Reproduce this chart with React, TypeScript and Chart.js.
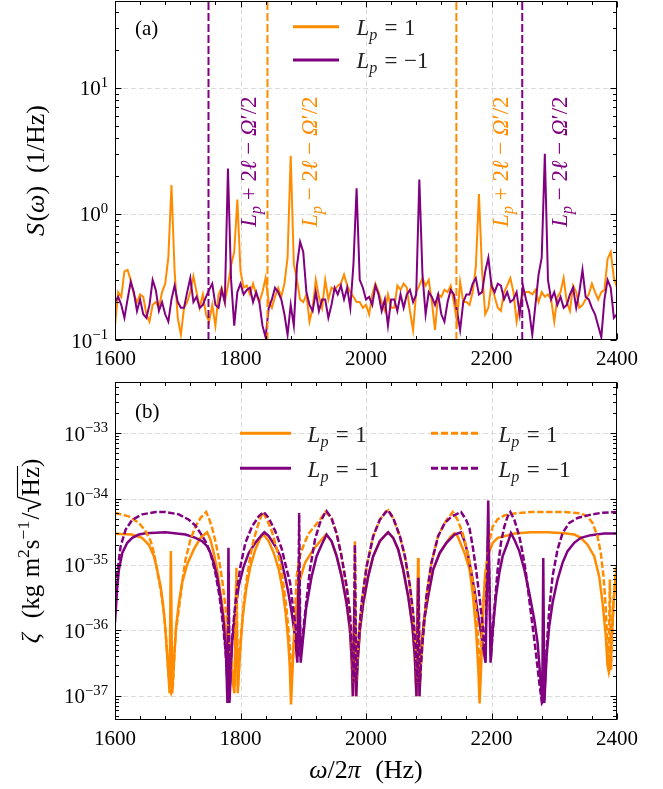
import React, { useEffect, useRef } from "react";
import { Chart, registerables } from "chart.js";

Chart.register(...registerables);

const ORANGE = "#ff8c00";
const PURPLE = "#800080";
const GRID = "#dcdcdc";
const FONT = '"Liberation Serif", "Times New Roman", serif';

// ---------- axes ----------
const freqMin = 1600;
const freqMax = 2400;
const freqTicks = [1600, 1800, 2000, 2200, 2400];
const freqMinorStep = 40;

const specMin = 0.1;
const specMax = 49;
const specTicks = [0.1, 1, 10];
const specTickExp = ["−1", "0", "1"];

const zetaMin = 4.3e-38;
const zetaMax = 6e-33;
const zetaTicks = [1e-37, 1e-36, 1e-35, 1e-34, 1e-33];
const zetaTickExp = ["−37", "−36", "−35", "−34", "−33"];

// ---------- panel (a): spectra ----------
const specFreq = Array.from({ length: 161 }, (_, i) => freqMin + 5 * i);
const specOrange = [
  0.13, 0.24, 0.22, 0.35, 0.36, 0.30, 0.23, 0.20, 0.23, 0.22,
  0.16, 0.14, 0.19, 0.20, 0.18, 0.24, 0.28, 0.45, 1.70, 0.35,
  0.15, 0.11, 0.18, 0.20, 0.24, 0.32, 0.24, 0.18, 0.23, 0.16,
  0.14, 0.19, 0.13, 0.23, 0.26, 0.20, 0.27, 0.39, 0.50, 1.30,
  0.35, 0.26, 0.27, 0.23, 0.28, 0.23, 0.20, 0.24, 0.31, 0.20,
  0.18, 0.22, 0.26, 0.22, 0.28, 0.45, 2.90, 0.40, 0.30, 0.21,
  0.20, 0.23, 0.14, 0.18, 0.30, 0.22, 0.18, 0.30, 0.21, 0.26,
  0.25, 0.27, 0.28, 0.33, 0.27, 0.24, 0.22, 0.20, 0.20, 0.18,
  0.19, 0.16, 0.23, 0.28, 0.24, 0.20, 0.17, 0.23, 0.18, 0.18,
  0.27, 0.25, 0.28, 0.26, 0.17, 0.12, 0.24, 0.27, 0.31, 0.27,
  0.30, 0.20, 0.12, 0.23, 0.22, 0.25, 0.24, 0.27, 0.20, 0.14,
  0.29, 0.20, 0.20, 0.19, 0.24, 0.38, 1.44, 0.35, 0.16, 0.18,
  0.28, 0.22, 0.18, 0.17, 0.24, 0.27, 0.31, 0.24, 0.14, 0.19,
  0.23, 0.24, 0.24, 0.23, 0.25, 0.20, 0.24, 0.22, 0.23, 0.21,
  0.14, 0.22, 0.24, 0.31, 0.20, 0.17, 0.27, 0.24, 0.18, 0.19,
  0.21, 0.23, 0.28, 0.24, 0.21, 0.24, 0.25, 0.44, 0.50, 0.31,
  0.26,
];
const specPurple = [
  0.20, 0.22, 0.19, 0.15, 0.21, 0.29, 0.24, 0.17, 0.21, 0.16,
  0.15, 0.19, 0.30, 0.25, 0.17, 0.20, 0.16, 0.14, 0.21, 0.27,
  0.20, 0.18, 0.18, 0.24, 0.31, 0.20, 0.22, 0.18, 0.19, 0.22,
  0.25, 0.28, 0.19, 0.18, 0.25, 0.20, 2.30, 0.30, 0.13, 0.24,
  0.28, 0.23, 0.25, 0.26, 0.20, 0.24, 0.20, 0.13, 0.105, 0.18,
  0.21, 0.26, 0.24, 0.21, 0.16, 0.11, 0.19, 0.13, 0.39, 0.60,
  0.50, 0.24, 0.19, 0.17, 0.24, 0.17, 0.21, 0.21, 0.15, 0.19,
  0.26, 0.23, 0.27, 0.21, 0.26, 0.18, 0.40, 1.60, 0.30, 0.26,
  0.21, 0.22, 0.19, 0.27, 0.23, 0.17, 0.21, 0.13, 0.21, 0.21,
  0.17, 0.23, 0.18, 0.23, 0.25, 0.20, 0.23, 1.88, 0.33, 0.16,
  0.24, 0.22, 0.19, 0.23, 0.16, 0.14, 0.20, 0.25, 0.23, 0.17,
  0.12, 0.20, 0.23, 0.23, 0.28, 0.31, 0.23, 0.24, 0.35, 0.45,
  0.27, 0.24, 0.28, 0.27, 0.21, 0.24, 0.20, 0.21, 0.24, 0.16,
  0.27, 0.21, 0.17, 0.11, 0.19, 0.33, 0.45, 3.00, 0.30, 0.21,
  0.24, 0.19, 0.22, 0.18, 0.19, 0.23, 0.26, 0.18, 0.24, 0.36,
  0.22, 0.21, 0.18, 0.16, 0.13, 0.105, 0.21, 0.30, 0.26, 0.15,
  0.16,
];
const markerOrangeFreq = [1843, 2144];
const markerPurpleFreq = [1749, 2249];
const noteFreq = [1824, 1922, 2226, 2321];
const noteSign = ["+", "−", "+", "−"];
const noteIsPurple = [true, false, false, true];
const noteLevel = 0.79;

// ---------- panel (b): zeta curves [freq, value] ----------
const zetaOrangeSolid: [number, number][] = [
  [1600, 2.95e-35], [1627, 2.86e-35], [1643, 2.55e-35], [1654, 2.0e-35], [1662, 1.34e-35],
  [1667, 8.4e-36], [1672.6, 4.7e-36], [1676.3, 2.6e-36], [1679.5, 1.3e-36], [1682, 6.0e-37],
  [1684.8, 2.5e-37], [1687, 1.1e-37], [1689, 1.6e-35], [1691.2, 1.1e-37], [1693.8, 3.2e-37],
  [1697.5, 1.15e-36], [1701.8, 2.6e-36], [1707, 5.3e-36], [1715, 1.0e-35], [1725.6, 1.7e-35],
  [1736.2, 2.55e-35], [1746.8, 3.1e-35], [1752, 2.4e-35], [1757.4, 1.5e-35], [1762.7, 8.4e-36],
  [1768, 3.7e-36], [1773.3, 1.63e-36], [1778.6, 6.4e-37], [1784, 3.6e-37], [1787.7, 1.6e-37],
  [1790.3, 1.1e-37], [1793, 5.0e-36], [1795.6, 1.1e-37], [1798.8, 4.0e-37], [1803.6, 1.63e-36],
  [1809, 4.2e-36], [1815.8, 9.4e-36], [1823.7, 1.7e-35], [1831.7, 2.55e-35], [1837, 2.86e-35],
  [1845, 2.26e-35], [1853, 1.5e-35], [1861, 8.4e-36], [1867, 4.2e-36], [1872, 1.8e-36],
  [1876, 7.0e-37], [1878.5, 2.8e-37], [1880.5, 7.4e-38], [1882.5, 2.0e-37], [1884.5, 6.0e-37],
  [1889.5, 2.6e-36], [1894.8, 5.9e-36], [1902.8, 1.06e-35], [1916, 1.7e-35], [1929.3, 2.4e-35],
  [1936.5, 2.86e-35], [1945.2, 2.26e-35], [1953.2, 1.34e-35], [1961.1, 6.6e-36], [1969, 2.6e-36],
  [1974.4, 1.02e-36], [1977.5, 3.2e-37], [1979.1, 9.9e-38], [1981.8, 3.0e-36], [1984.4, 9.9e-38],
  [1986.6, 3.2e-37], [1990.3, 1.02e-36], [1995.6, 2.6e-36], [2003.5, 6.6e-36], [2011.5, 1.34e-35],
  [2022, 2.26e-35], [2031.6, 2.86e-35], [2035.3, 3.1e-35], [2043.3, 2.55e-35], [2051.3, 1.7e-35],
  [2059.2, 8.4e-36], [2067.2, 3.3e-36], [2074, 1.15e-36], [2077.8, 4.0e-37], [2080.4, 9.9e-38],
  [2083, 1.26e-35], [2085.2, 9.9e-38], [2087.8, 4.0e-37], [2092, 1.3e-36], [2099, 3.3e-36],
  [2107, 8.4e-36], [2117.5, 1.5e-35], [2128.2, 2.14e-35], [2134, 2.6e-35], [2141, 3.0e-35],
  [2146, 2.7e-35], [2157, 1.5e-35], [2165, 8.4e-36], [2170, 3.7e-36], [2175.4, 1.02e-36],
  [2179, 2.5e-37], [2181, 7.7e-38], [2183.3, 2.5e-37], [2186, 1.45e-36], [2189.7, 6.6e-36],
  [2194, 1.34e-35], [2201.9, 2.14e-35], [2209.8, 2.55e-35], [2220.5, 2.7e-35], [2236.4, 2.96e-35],
  [2263, 3.1e-35], [2289, 3.1e-35], [2316, 3.0e-35], [2332, 2.86e-35], [2342.4, 2.55e-35],
  [2353, 2.0e-35], [2363.6, 1.34e-35], [2371.6, 6.6e-36], [2377, 2.6e-36], [2382.2, 8.1e-37],
  [2384.8, 3.0e-37], [2387, 2.3e-37], [2389.5, 3.0e-37], [2391.2, 6.4e-37], [2394.4, 2.6e-36],
  [2398, 6.6e-36], [2400, 8.4e-36],
];
const zetaPurpleSolid: [number, number][] = [
  [1600, 1.3e-36], [1603.7, 4.7e-36], [1606.3, 8.4e-36], [1611.6, 1.5e-35], [1619.6, 2.14e-35],
  [1627.5, 2.55e-35], [1638, 2.86e-35], [1648.7, 3.0e-35], [1680.5, 3.1e-35], [1712.4, 2.86e-35],
  [1728.3, 2.55e-35], [1739, 2.26e-35], [1746.8, 1.9e-35], [1752.1, 1.5e-35], [1757.4, 1.06e-35],
  [1762.7, 6.6e-36], [1768, 3.3e-36], [1773.3, 1.3e-36], [1777, 4.0e-37], [1779.2, 7.8e-38],
  [1780.8, 1.8e-35], [1782.4, 7.8e-38], [1786.6, 6.4e-37], [1791.9, 2.1e-36], [1797.2, 4.7e-36],
  [1805.2, 9.4e-36], [1813.1, 1.5e-35], [1823.7, 2.14e-35], [1834.3, 2.86e-35], [1838, 3.1e-35],
  [1845, 2.7e-35], [1855.5, 1.9e-35], [1863.5, 1.34e-35], [1871, 6.6e-36], [1876.3, 3.7e-36],
  [1881.6, 1.84e-36], [1886.9, 8.1e-37], [1890.6, 3.2e-37], [1892.7, 1.0e-35], [1895.9, 3.2e-37],
  [1899, 6.4e-37], [1904.4, 2.1e-36], [1913.4, 6.6e-36], [1921.3, 1.34e-35], [1929.3, 2.0e-35],
  [1937.2, 2.86e-35], [1945.2, 2.26e-35], [1953.2, 1.34e-35], [1961.1, 6.6e-36], [1969, 2.6e-36],
  [1974.4, 1.02e-36], [1977.5, 3.2e-37], [1979.1, 9.9e-38], [1981.8, 4.0e-36], [1984.4, 9.9e-38],
  [1986.6, 3.2e-37], [1990.3, 1.02e-36], [1995.6, 2.6e-36], [2003.5, 6.6e-36], [2011.5, 1.34e-35],
  [2022, 2.26e-35], [2031.6, 2.86e-35], [2035.3, 3.1e-35], [2043.3, 2.55e-35], [2051.3, 1.7e-35],
  [2059.2, 8.4e-36], [2067.2, 3.3e-36], [2074, 1.15e-36], [2077.8, 4.0e-37], [2080.4, 9.9e-38],
  [2083, 6.3e-36], [2085.2, 9.9e-38], [2087.8, 4.0e-37], [2092, 1.3e-36], [2099, 3.3e-36],
  [2107, 8.4e-36], [2117.5, 1.5e-35], [2128.2, 2.14e-35], [2141, 2.86e-35], [2151.5, 3.1e-35],
  [2157, 2.26e-35], [2162, 1.5e-35], [2167, 8.4e-36], [2172.7, 4.2e-36], [2178, 1.84e-36],
  [2183.3, 9.1e-37], [2187, 5.1e-37], [2190.6, 3.2e-37], [2194.8, 9.4e-35], [2198.5, 3.2e-37],
  [2201.9, 1.02e-36], [2207.2, 3.3e-36], [2212.5, 7.5e-36], [2217.8, 1.34e-35], [2225.8, 2.14e-35],
  [2231, 3.0e-35], [2236.4, 2.4e-35], [2244.3, 1.6e-35], [2252.3, 8.4e-36], [2260.2, 3.7e-36],
  [2268.2, 1.45e-36], [2273.5, 6.4e-37], [2277.7, 2.0e-37], [2280.9, 7.8e-38], [2282.5, 1.26e-35],
  [2284.2, 7.8e-38], [2287.8, 4.0e-37], [2292, 1.15e-36], [2297.3, 2.6e-36], [2305.3, 5.9e-36],
  [2313.2, 1.06e-35], [2321.2, 1.6e-35], [2331.8, 2.14e-35], [2342.4, 2.55e-35], [2358.3, 2.8e-35],
  [2379.5, 2.96e-35], [2400, 2.96e-35],
];
const zetaOrangeDashed: [number, number][] = [
  [1600, 6.1e-35], [1622, 5.4e-35], [1638, 4.3e-35], [1649, 3.2e-35], [1657, 2.26e-35],
  [1662, 1.5e-35], [1667, 8.4e-36], [1672.6, 4.2e-36], [1678, 1.84e-36], [1682, 6.4e-37],
  [1684.8, 2.5e-37], [1687, 1.3e-37], [1689.5, 1.1e-37], [1692, 1.3e-37], [1696.5, 9.1e-37],
  [1701.8, 2.1e-36], [1707, 5.3e-36], [1712.4, 1.19e-35], [1720.3, 2.4e-35], [1728.3, 3.8e-35],
  [1736.2, 5.1e-35], [1745.2, 6.3e-35], [1749.5, 5.1e-35], [1754.8, 3.6e-35], [1760, 2.26e-35],
  [1765.4, 1.26e-35], [1770.7, 5.9e-36], [1776, 2.3e-36], [1781.3, 8.1e-37], [1786.6, 2.8e-37],
  [1790.8, 1.4e-37], [1793.5, 8.9e-36], [1796.1, 1.4e-37], [1799.9, 6.4e-37], [1805.2, 2.6e-36],
  [1810.5, 6.6e-36], [1815.8, 1.34e-35], [1821, 2.4e-35], [1829, 4.3e-35], [1835.4, 6.3e-35],
  [1842.3, 4.8e-35], [1850, 3.2e-35], [1858, 1.7e-35], [1863, 1.06e-35], [1868, 5.3e-36],
  [1873, 2.3e-36], [1877, 9.0e-37], [1880, 3.6e-37], [1882, 2.2e-37], [1884, 4.0e-37],
  [1886.5, 1.6e-36], [1889.5, 6.6e-36], [1894, 1.3e-35], [1900, 1.9e-35], [1908, 2.9e-35],
  [1916, 3.6e-35], [1926.6, 4.8e-35], [1935.5, 6.3e-35], [1945, 5.1e-35], [1953, 3.0e-35],
  [1961, 1.34e-35], [1969, 4.7e-36], [1974.4, 1.84e-36], [1978, 4.0e-37], [1980.2, 1.6e-37],
  [1982.3, 2.26e-35], [1984.4, 1.6e-37], [1987.6, 6.4e-37], [1993, 2.6e-36], [2001, 9.4e-36],
  [2011.5, 2.7e-35], [2022, 4.8e-35], [2031.6, 6.3e-35], [2035.3, 6.7e-35], [2043.3, 5.1e-35],
  [2054, 2.7e-35], [2062, 1.34e-35], [2070, 4.7e-36], [2075, 1.84e-36], [2079.4, 5.1e-37],
  [2082, 1.6e-37], [2083.6, 1.26e-35], [2085.7, 1.6e-37], [2090, 6.4e-37], [2096.3, 3.3e-36],
  [2104.3, 1.06e-35], [2114.9, 2.7e-35], [2125.5, 4.3e-35], [2130.3, 5.0e-35], [2138.3, 6.3e-35],
  [2146, 4.8e-35], [2154, 3.0e-35], [2162, 1.5e-35], [2167.4, 8.4e-36], [2172.7, 3.7e-36],
  [2177, 1.45e-36], [2179.5, 5.1e-37], [2181.5, 2.5e-37], [2183.5, 5.1e-37], [2186, 2.1e-36],
  [2191.3, 8.4e-36], [2196.6, 2.26e-35], [2201.9, 3.8e-35], [2209.8, 4.9e-35], [2220.5, 5.6e-35],
  [2236.4, 6.0e-35], [2263, 6.3e-35], [2316, 6.3e-35], [2342.4, 6.0e-35], [2353, 5.4e-35],
  [2361, 4.3e-35], [2368.9, 2.7e-35], [2374.2, 1.5e-35], [2378.5, 6.6e-36], [2382.2, 2.1e-36],
  [2385.4, 4.0e-37], [2386.6, 2.5e-37], [2388.6, 5.9e-36], [2390.5, 2.5e-37], [2394.4, 2.6e-36],
  [2398.1, 8.4e-36], [2400, 9.4e-36],
];
const zetaPurpleDashed: [number, number][] = [
  [1600, 3.3e-36], [1603.7, 7.5e-36], [1609, 1.9e-35], [1617, 3.4e-35], [1627.5, 4.8e-35],
  [1643.4, 5.8e-35], [1664.6, 6.3e-35], [1680.5, 6.3e-35], [1701.8, 5.8e-35], [1717.7, 4.8e-35],
  [1728.3, 3.9e-35], [1736.2, 3.0e-35], [1744.2, 2.26e-35], [1752.1, 1.5e-35], [1760, 7.5e-36],
  [1766.5, 3.3e-36], [1771.8, 1.3e-36], [1776, 5.1e-37], [1778.6, 2.0e-37], [1780.2, 1.0e-37],
  [1781.2, 8.0e-36], [1782.3, 1.0e-37], [1784, 2.5e-37], [1787.7, 1.02e-36], [1793, 3.3e-36],
  [1799.9, 9.4e-36], [1807.8, 2.14e-35], [1818.4, 3.8e-35], [1829, 5.4e-35], [1837, 6.3e-35],
  [1845, 5.1e-35], [1855.5, 3.2e-35], [1866, 1.7e-35], [1871, 1.06e-35], [1879, 5.3e-36],
  [1884, 2.1e-36], [1888.5, 1.02e-36], [1891.5, 4.0e-37], [1893.5, 6.1e-35], [1895.5, 4.0e-37],
  [1897.5, 6.0e-37], [1903, 1.84e-36], [1910.7, 8.4e-36], [1918.7, 2.4e-35], [1926.6, 4.3e-35],
  [1934.6, 6.1e-35], [1937, 6.5e-35], [1945, 5.1e-35], [1953, 3.0e-35], [1961, 1.34e-35],
  [1969, 4.7e-36], [1974.4, 1.84e-36], [1978, 4.0e-37], [1980.2, 1.6e-37], [1982.3, 2.0e-35],
  [1984.4, 1.6e-37], [1987.6, 6.4e-37], [1993, 2.6e-36], [2001, 9.4e-36], [2011.5, 2.7e-35],
  [2022, 4.8e-35], [2031.6, 6.3e-35], [2035.3, 6.7e-35], [2043.3, 5.1e-35], [2054, 2.7e-35],
  [2062, 1.34e-35], [2070, 4.7e-36], [2075, 1.84e-36], [2079.4, 5.1e-37], [2082, 1.6e-37],
  [2083.6, 6.3e-36], [2085.7, 1.6e-37], [2090, 6.4e-37], [2096.3, 3.3e-36], [2104.3, 1.06e-35],
  [2114.9, 2.7e-35], [2125.5, 4.3e-35], [2136.6, 5.4e-35], [2143.6, 5.8e-35], [2151.5, 6.3e-35],
  [2159.5, 4.8e-35], [2164.8, 3.6e-35], [2170, 1.9e-35], [2175.4, 8.4e-36], [2180.7, 3.3e-36],
  [2186, 1.15e-36], [2189.7, 4.0e-37], [2194.8, 3.0e-35], [2199.2, 4.0e-37], [2204.5, 2.1e-36],
  [2209.8, 8.4e-36], [2215.1, 2.14e-35], [2220.5, 3.8e-35], [2225.8, 5.4e-35], [2230, 6.3e-35],
  [2236.4, 4.8e-35], [2244.3, 2.7e-35], [2249.6, 1.5e-35], [2254.9, 7.5e-36], [2260.2, 2.9e-36],
  [2265.5, 1.15e-36], [2270.8, 4.5e-37], [2276.1, 1.6e-37], [2280.4, 7.8e-38], [2284, 8.8e-38],
  [2287.8, 5.1e-37], [2292, 2.1e-36], [2297.3, 6.6e-36], [2305.3, 1.7e-35], [2313.2, 3.0e-35],
  [2323.9, 4.3e-35], [2337.1, 5.1e-35], [2353, 5.6e-35], [2374.2, 6.1e-35], [2400, 6.3e-35],
];

// ---------- rich text helpers ----------
type Part = { t?: string; it?: boolean; sub?: boolean; sup?: boolean; gap?: number; over?: boolean; big?: number };

function partFont(p: Part, size: number) {
  let s = p.sub || p.sup ? size * 0.7 : size;
  if (p.big) s *= p.big;
  return `${p.it ? "italic " : ""}${s}px ${FONT}`;
}
function richWidth(ctx: CanvasRenderingContext2D, parts: Part[], size: number) {
  let w = 0;
  for (const p of parts) {
    if (!p.t) { w += (p.gap || 0) * size; continue; }
    ctx.font = partFont(p, size);
    w += ctx.measureText(p.t).width;
  }
  return w;
}
function drawRich(ctx: CanvasRenderingContext2D, parts: Part[], x: number, y: number, size: number, color: string) {
  ctx.fillStyle = color;
  ctx.strokeStyle = color;
  ctx.textAlign = "left";
  ctx.textBaseline = "alphabetic";
  let cx = x;
  for (const p of parts) {
    if (!p.t) { cx += (p.gap || 0) * size; continue; }
    ctx.font = partFont(p, size);
    const dy = p.sub ? size * 0.22 : p.sup ? -size * 0.4 : p.big ? size * 0.08 : 0;
    ctx.fillText(p.t, cx, y + dy);
    const w = ctx.measureText(p.t).width;
    if (p.over) {
      ctx.lineWidth = Math.max(1, size * 0.045);
      ctx.beginPath();
      ctx.moveTo(cx - size * 0.03, y - size * 0.86);
      ctx.lineTo(cx + w + size * 0.04, y - size * 0.86);
      ctx.stroke();
    }
    cx += w;
  }
  return cx - x;
}

const lpParts = (val: string): Part[] => [
  { t: "L", it: true }, { t: "p", it: true, sub: true }, { gap: 0.32 }, { t: "=" }, { gap: 0.28 }, { t: val },
];
const noteParts = (sign: string): Part[] => [
  { t: "L", it: true }, { t: "p", it: true, sub: true }, { gap: 0.25 }, { t: sign }, { gap: 0.25 },
  { t: "2" }, { t: "ℓ", it: true }, { gap: 0.25 }, { t: "−" }, { gap: 0.25 },
  { t: "Ω", it: true }, { t: "′" }, { t: "/2" },
];

type LegendItem = { x1: number; x2: number; y: number; color: string; dash: number[]; tx: number; ty: number; val: string };
type PanelCfg = {
  id: string;
  yTicks: number[];
  yExp: string[];
  xLabelBaseline: number;
  yTitle: Part[];
  yTitleSize: number;
  yTitleX: number;
  xTitle?: Part[];
  xTitleY?: number;
  panelLabel: string;
  panelLabelY: number;
  legend: LegendItem[];
  notes: boolean;
};

function makePanelPlugin(cfg: PanelCfg) {
  return {
    id: cfg.id,
    beforeDatasetsDraw(chart: any) {
      const { ctx, chartArea: a } = chart;
      const xs = chart.scales.x, ys = chart.scales.y;
      ctx.save();
      ctx.strokeStyle = GRID;
      ctx.lineWidth = 1;
      ctx.setLineDash([5.5, 2.5]);
      ctx.beginPath();
      for (const t of freqTicks) {
        if (t <= xs.min || t >= xs.max) continue;
        const p = Math.round(xs.getPixelForValue(t)) + 0.5;
        ctx.moveTo(p, a.top); ctx.lineTo(p, a.bottom);
      }
      for (const t of cfg.yTicks) {
        if (t <= ys.min * 1.0001 || t >= ys.max) continue;
        const p = Math.round(ys.getPixelForValue(t)) + 0.5;
        ctx.moveTo(a.left, p); ctx.lineTo(a.right, p);
      }
      ctx.stroke();
      ctx.restore();
    },
    afterDatasetsDraw(chart: any) {
      const { ctx, chartArea: a } = chart;
      const xs = chart.scales.x, ys = chart.scales.y;
      ctx.save();
      ctx.strokeStyle = "#000";
      ctx.lineWidth = 1;
      ctx.setLineDash([]);
      const L = Math.round(a.left) + 0.5, R = Math.round(a.right) - 0.5;
      const T = Math.round(a.top) + 0.5, B = Math.round(a.bottom) - 0.5;
      ctx.strokeRect(L, T, R - L, B - T);
      const MAJ = 6, MIN = 3.5;
      ctx.beginPath();
      for (let f = xs.min; f <= xs.max + 1e-6; f += freqMinorStep) {
        const major = freqTicks.includes(Math.round(f));
        const len = major ? MAJ : MIN;
        const p = Math.round(xs.getPixelForValue(f)) + 0.5;
        ctx.moveTo(p, B); ctx.lineTo(p, B - len);
        ctx.moveTo(p, T); ctx.lineTo(p, T + len);
      }
      const d0 = Math.floor(Math.log10(ys.min)) - 1, d1 = Math.ceil(Math.log10(ys.max)) + 1;
      for (let d = d0; d <= d1; d++) {
        for (let k = 1; k <= 9; k++) {
          const v = k * Math.pow(10, d);
          if (v < ys.min * 0.9999 || v > ys.max * 1.0001) continue;
          const len = k === 1 ? MAJ : MIN;
          const p = Math.round(ys.getPixelForValue(v)) + 0.5;
          ctx.moveTo(L, p); ctx.lineTo(L + len, p);
          ctx.moveTo(R, p); ctx.lineTo(R - len, p);
        }
      }
      ctx.stroke();

      ctx.fillStyle = "#000";
      ctx.font = `21px ${FONT}`;
      ctx.textAlign = "center";
      ctx.textBaseline = "alphabetic";
      for (const t of freqTicks) {
        ctx.fillText(String(t), xs.getPixelForValue(t), cfg.xLabelBaseline);
      }
      cfg.yTicks.forEach((t, i) => {
        const py = ys.getPixelForValue(t);
        const parts: Part[] = [{ t: "10" }, { t: cfg.yExp[i], sup: true }];
        const w = richWidth(ctx, parts, 21);
        drawRich(ctx, parts, a.left - 7 - w, py + 7.5, 21, "#000");
      });

      {
        const w = richWidth(ctx, cfg.yTitle, cfg.yTitleSize);
        const cy = (a.top + a.bottom) / 2;
        ctx.save();
        ctx.translate(cfg.yTitleX, cy + w / 2);
        ctx.rotate(-Math.PI / 2);
        drawRich(ctx, cfg.yTitle, 0, 0, cfg.yTitleSize, "#000");
        ctx.restore();
      }
      if (cfg.xTitle && cfg.xTitleY) {
        const w = richWidth(ctx, cfg.xTitle, 26);
        drawRich(ctx, cfg.xTitle, (a.left + a.right) / 2 - w / 2, cfg.xTitleY, 26, "#000");
      }
      ctx.fillStyle = "#000";
      ctx.font = `21px ${FONT}`;
      ctx.textAlign = "left";
      ctx.fillText(cfg.panelLabel, 135, cfg.panelLabelY);

      for (const it of cfg.legend) {
        ctx.strokeStyle = it.color;
        ctx.lineWidth = 3;
        ctx.setLineDash(it.dash);
        ctx.beginPath();
        ctx.moveTo(it.x1, it.y);
        ctx.lineTo(it.x2, it.y);
        ctx.stroke();
        ctx.setLineDash([]);
        drawRich(ctx, lpParts(it.val), it.tx, it.ty, 23, "#222");
      }

      if (cfg.notes) {
        noteFreq.forEach((f, i) => {
          const px = xs.getPixelForValue(f);
          const py = ys.getPixelForValue(noteLevel);
          ctx.save();
          ctx.translate(px, py);
          ctx.rotate(-Math.PI / 2);
          drawRich(ctx, noteParts(noteSign[i]), 0, 0, 23, noteIsPurple[i] ? PURPLE : ORANGE);
          ctx.restore();
        });
      }
      ctx.restore();
    },
  };
}

function lineDataset(points: { x: number; y: number }[], color: string, width: number, dash: number[], order: number) {
  return {
    data: points,
    borderColor: color,
    backgroundColor: color,
    borderWidth: width,
    borderDash: dash,
    pointRadius: 0,
    fill: false,
    tension: 0,
    order,
    borderJoinStyle: "miter" as const,
  };
}

export default function App() {
  const topRef = useRef<HTMLCanvasElement>(null);
  const botRef = useRef<HTMLCanvasElement>(null);

  useEffect(() => {
    const topPlugin = makePanelPlugin({
      id: "panelA",
      yTicks: specTicks,
      yExp: specTickExp,
      xLabelBaseline: 365,
      yTitle: [{ t: "S", it: true }, { gap: 0.05 }, { t: "(" }, { t: "ω", it: true }, { t: ")" }, { gap: 0.5 }, { t: "(1/Hz)" }],
      yTitleSize: 26,
      yTitleX: 44,
      panelLabel: "(a)",
      panelLabelY: 35,
      legend: [
        { x1: 293, x2: 339, y: 26.7, color: ORANGE, dash: [], tx: 356.4, ty: 35, val: "1" },
        { x1: 293, x2: 339, y: 60, color: PURPLE, dash: [], tx: 356.4, ty: 68.3, val: "−1" },
      ],
      notes: true,
    });
    const markerSets = [
      ...markerPurpleFreq.map((f) => lineDataset([{ x: f, y: specMin }, { x: f, y: specMax }], PURPLE, 2, [8, 3], 0)),
      ...markerOrangeFreq.map((f) => lineDataset([{ x: f, y: specMin }, { x: f, y: specMax }], ORANGE, 2, [8, 3], 0)),
    ];
    const c1 = new Chart(topRef.current as HTMLCanvasElement, {
      type: "line",
      data: {
        datasets: [
          ...markerSets,
          lineDataset(specFreq.map((f, i) => ({ x: f, y: specPurple[i] })), PURPLE, 2, [], 1),
          lineDataset(specFreq.map((f, i) => ({ x: f, y: specOrange[i] })), ORANGE, 2, [], 2),
        ] as any,
      },
      options: {
        responsive: false,
        animation: false,
        devicePixelRatio: 1,
        events: [],
        layout: { padding: { left: 115, right: 46, top: 1, bottom: 35 } },
        plugins: { legend: { display: false }, tooltip: { enabled: false } },
        scales: {
          x: { type: "linear", min: freqMin, max: freqMax, display: false },
          y: { type: "logarithmic", min: specMin, max: specMax, display: false },
        },
      } as any,
      plugins: [topPlugin as any],
    });

    const botPlugin = makePanelPlugin({
      id: "panelB",
      yTicks: zetaTicks,
      yExp: zetaTickExp,
      xLabelBaseline: 370,
      yTitle: [
        { t: "ζ", it: true }, { gap: 0.6 }, { t: "(kg" }, { gap: 0.3 }, { t: "m" }, { t: "2", sup: true },
        { t: "s" }, { t: "−1", sup: true }, { gap: 0.05 }, { t: "/" }, { t: "√", big: 1.2 }, { t: "Hz", over: true }, { t: ")" },
      ],
      yTitleSize: 25,
      yTitleX: 39,
      xTitle: [{ t: "ω", it: true }, { t: "/2" }, { t: "π", it: true }, { gap: 0.55 }, { t: "(Hz)" }],
      xTitleY: 403,
      panelLabel: "(b)",
      panelLabelY: 43,
      legend: [
        { x1: 240, x2: 291, y: 58.3, color: ORANGE, dash: [], tx: 307.6, ty: 66.7, val: "1" },
        { x1: 240, x2: 291, y: 93.3, color: PURPLE, dash: [], tx: 307.6, ty: 101.7, val: "−1" },
        { x1: 431, x2: 479, y: 58.3, color: ORANGE, dash: [7, 3], tx: 498.5, ty: 66.7, val: "1" },
        { x1: 431, x2: 479, y: 93.3, color: PURPLE, dash: [7, 3], tx: 498.5, ty: 101.7, val: "−1" },
      ],
      notes: false,
    });
    const toPts = (arr: [number, number][]) => arr.map(([x, y]) => ({ x, y }));
    const c2 = new Chart(botRef.current as HTMLCanvasElement, {
      type: "line",
      data: {
        datasets: [
          lineDataset(toPts(zetaPurpleDashed), PURPLE, 2.5, [6.5, 2.5], 0),
          lineDataset(toPts(zetaOrangeDashed), ORANGE, 2.5, [6.5, 2.5], 1),
          lineDataset(toPts(zetaPurpleSolid), PURPLE, 2.5, [], 2),
          lineDataset(toPts(zetaOrangeSolid), ORANGE, 2.5, [], 3),
        ] as any,
      },
      options: {
        responsive: false,
        animation: false,
        devicePixelRatio: 1,
        events: [],
        layout: { padding: { left: 115, right: 46, top: 7, bottom: 69 } },
        plugins: { legend: { display: false }, tooltip: { enabled: false } },
        scales: {
          x: { type: "linear", min: freqMin, max: freqMax, display: false },
          y: { type: "logarithmic", min: zetaMin, max: zetaMax, display: false },
        },
      } as any,
      plugins: [botPlugin as any],
    });

    return () => {
      c1.destroy();
      c2.destroy();
    };
  }, []);

  return (
    <div style={{ position: "absolute", left: 0, top: 0, width: 663, height: 789, background: "#fff" }}>
      <canvas ref={topRef} width={663} height={375} style={{ position: "absolute", left: 0, top: 0, width: 663, height: 375 }} />
      <canvas ref={botRef} width={663} height={414} style={{ position: "absolute", left: 0, top: 375, width: 663, height: 414 }} />
    </div>
  );
}
